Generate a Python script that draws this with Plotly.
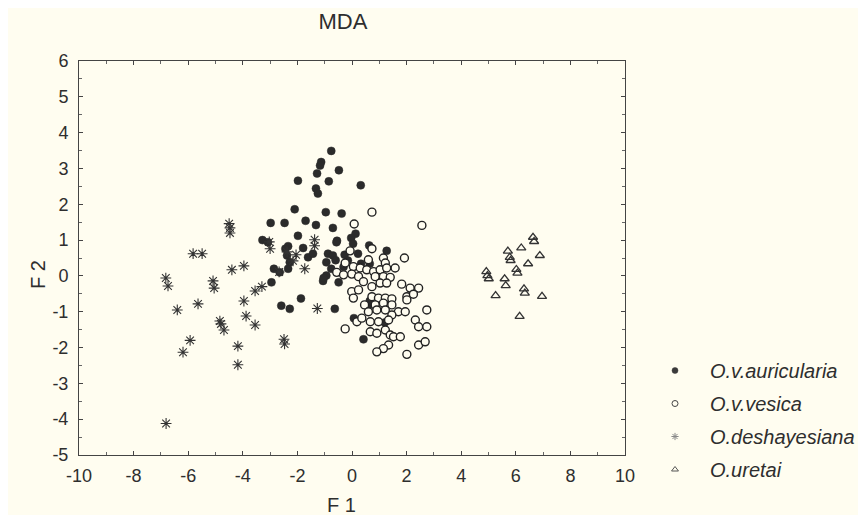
import plotly.graph_objects as go

# ---- data ----
aur_x = [-0.76, -1.13, -1.17, -0.48, -1.28, -1.98, -0.85, 0.32, -1.32, -1.25,
         -2.10, -0.96, -0.38, -2.98, -2.47, -1.70, -1.32, -0.70, 0.13, -0.03,
         -1.98, -0.55, -3.28, -3.08, -2.34, -2.44, -1.79, -2.38, -2.28, -1.61,
         -1.43, -2.86, -2.65, -2.34, -2.95, -0.88, -0.70, -0.94, -0.76, -0.94,
         -0.49, -0.57, 0.04, -0.27, -0.15, 0.22, 0.63, 1.27, -2.59, -2.28,
         -1.87, -0.63, -1.06, 0.07, 0.42, 0.65, 0.70, 0.33, 0.65, 1.20,
         -0.60, -1.04, -0.31]
aur_y = [3.49, 3.18, 3.08, 2.95, 2.86, 2.66, 2.64, 2.53, 2.44, 2.30,
         1.86, 1.78, 1.74, 1.48, 1.48, 1.54, 1.42, 1.34, 1.18, 1.06,
         1.12, 0.98, 1.00, 0.94, 0.83, 0.76, 0.78, 0.57, 0.38, 0.52,
         0.62, 0.20, 0.10, 0.20, -0.18, 0.62, 0.57, 0.38, 0.20, 0.01,
         -0.18, 0.94, 0.90, 0.59, 0.43, 0.62, 0.85, 0.70, -0.83, -0.92,
         -0.63, -0.92, -0.14, -1.18, -1.77, -0.70, -0.80, 0.34, 0.34, -1.30,
         0.44, -0.06, 0.25]

ves_x = [0.73, 0.08, 2.56, -0.07, 0.73, 0.60, 1.15, 1.22, 1.92, -0.25,
         0.05, 0.30, 0.54, 0.79, 1.03, 1.27, 1.58, -0.56, -0.31, -0.01,
         0.24, 0.85, 1.15, 1.40, 0.42, 0.73, 1.03, 1.27, 1.82, 2.13,
         2.44, -0.01, 0.24, 0.05, 0.73, 0.97, 1.22, 1.46, 2.01, 2.25,
         2.01, 0.46, 0.85, 1.15, 1.46, 1.70, 1.95, 0.60, 0.91, 1.22,
         1.46, 0.18, 0.36, 0.67, 0.97, 1.34, -0.25, 0.67, 0.91, 1.22,
         1.40, 2.32, 2.44, 2.74, 2.74, 1.52, 1.77, 1.34, 1.15, 0.91,
         2.44, 2.68, 2.01]
ves_y = [1.78, 1.45, 1.41, 0.70, 0.76, 0.45, 0.50, 0.36, 0.50, 0.36,
         0.26, 0.22, 0.17, 0.12, 0.17, 0.22, 0.22, 0.10, 0.03, 0.05,
         -0.02, -0.02, -0.02, -0.04, -0.16, -0.30, -0.20, -0.20, -0.23, -0.34,
         -0.34, -0.44, -0.39, -0.62, -0.58, -0.62, -0.62, -0.64, -0.58, -0.51,
         -0.67, -0.81, -0.81, -0.76, -0.81, -1.00, -1.00, -1.00, -0.95, -0.95,
         -1.09, -1.28, -1.18, -1.28, -1.28, -1.23, -1.48, -1.56, -1.60, -1.51,
         -1.65, -1.23, -1.42, -1.42, -0.95, -1.70, -1.70, -1.93, -2.03, -2.12,
         -1.93, -1.84, -2.19]

des_x = [-4.50, -4.47, -4.47, -3.03, -3.00, -5.82, -5.49, -4.40, -3.96, -6.82,
         -6.74, -5.09, -5.05, -3.55, -3.30, -6.40, -5.64, -3.96, -3.88, -3.55,
         -4.84, -4.80, -4.69, -5.93, -6.19, -4.18, -4.18, -6.81, -1.37, -1.37,
         -2.38, -2.05, -2.16, -2.67, -1.73, -1.27, -2.49, -2.47]
des_y = [1.46, 1.34, 1.20, 0.95, 0.76, 0.62, 0.62, 0.17, 0.28, -0.06,
         -0.28, -0.14, -0.34, -0.42, -0.30, -0.95, -0.78, -0.70, -1.12, -1.37,
         -1.26, -1.34, -1.51, -1.80, -2.13, -1.96, -2.48, -4.12, 1.01, 0.84,
         0.67, 0.59, 0.42, 0.11, 0.20, -0.91, -1.77, -1.90]

ure_x = [6.63, 6.67, 6.20, 6.88, 5.71, 5.78, 5.81, 6.45, 6.02, 6.06,
         4.92, 4.96, 5.01, 5.59, 5.63, 6.30, 6.33, 5.26, 6.96, 6.14]
ure_y = [1.08, 0.96, 0.78, 0.57, 0.69, 0.52, 0.43, 0.34, 0.18, 0.08,
         0.12, 0.01, -0.08, -0.08, -0.27, -0.36, -0.48, -0.55, -0.57, -1.13]

names = ["O.v.auricularia", "O.v.vesica", "O.deshayesiana", "O.uretai"]
x_ticks = [-10, -8, -6, -4, -2, 0, 2, 4, 6, 8, 10]
y_ticks = [-5, -4, -3, -2, -1, 0, 1, 2, 3, 4, 5, 6]
x_ticktext = [str(v) for v in x_ticks]   # plain hyphen minus, as in the reference
y_ticktext = [str(v) for v in y_ticks]

BG = "#fffdf0"
FONT = "Liberation Sans, Arial, sans-serif"
TXT = "#2e2e2e"

styles = [
    dict(symbol="circle", size=8, color="#2b2b2b", line=dict(color="#2b2b2b", width=0.5)),
    dict(symbol="circle", size=8, color=BG, line=dict(color="#222222", width=1.4)),
    dict(symbol="asterisk-open", size=9, color="#333333", line=dict(color="#333333", width=1.1)),
    dict(symbol="triangle-up-open", size=8, color="#333333", line=dict(color="#333333", width=1.3)),
]
legend_styles = [
    dict(symbol="circle", size=6, color="#3a3a3a", line=dict(color="#3a3a3a", width=0.5)),
    dict(symbol="circle-open", size=6, color="#444444", line=dict(color="#444444", width=1)),
    dict(symbol="asterisk-open", size=6, color="#888888", line=dict(color="#888888", width=1)),
    dict(symbol="triangle-up-open", size=6, color="#555555", line=dict(color="#555555", width=1)),
]

fig = go.Figure()
series = [(aur_x, aur_y), (ves_x, ves_y), (des_x, des_y), (ure_x, ure_y)]
for i, ((xs, ys), nm) in enumerate(zip(series, names)):
    fig.add_trace(go.Scatter(x=xs, y=ys, mode="markers", name=nm,
                             marker=styles[i], showlegend=False))
for i, nm in enumerate(names):
    fig.add_trace(go.Scatter(x=[None], y=[None], mode="markers", name=nm,
                             marker=legend_styles[i], legendgroup=nm,
                             showlegend=True))

axis_common = dict(
    showgrid=False, zeroline=False, showline=True, linecolor="#444444",
    linewidth=1, mirror="ticks", ticks="inside", ticklen=4,
    tickcolor="#444444", tickfont=dict(family=FONT, size=18, color=TXT),
)
fig.update_xaxes(range=[-10, 10], tickvals=x_ticks, ticktext=x_ticktext,
                 ticklabelstandoff=4,
                 minor=dict(dtick=1, ticks="inside", ticklen=3, tickcolor="#666666"),
                 **axis_common)
fig.update_yaxes(range=[-5, 6], tickvals=y_ticks, ticktext=y_ticktext,
                 ticklabelstandoff=6,
                 minor=dict(dtick=0.5, ticks="inside", ticklen=3, tickcolor="#666666"),
                 **axis_common)

PW, PH = 546, 394
fig.update_layout(
    width=866, height=515,
    margin=dict(l=71, r=249, t=53, b=68, autoexpand=False),
    paper_bgcolor=BG, plot_bgcolor=BG,
    font=dict(family=FONT, color=TXT),
    title=dict(text="MDA", x=335 / 866, xref="container", y=0.975, yref="container",
               xanchor="center", yanchor="middle",
               font=dict(family=FONT, size=22, color=TXT)),
    legend=dict(x=(632 - 71) / PW, xanchor="left", y=(447 - 343) / PH, yanchor="top",
                yref="paper", tracegroupgap=4, itemwidth=60,
                font=dict(family=FONT, size=20, color=TXT, style="italic"),
                bgcolor="rgba(0,0,0,0)"),
    showlegend=True,
    annotations=[
        dict(text="F 1", x=(333 - 71) / PW, y=-(497 - 447) / PH, xref="paper", yref="paper",
             showarrow=False, xanchor="center", yanchor="middle",
             font=dict(family=FONT, size=20, color=TXT)),
        dict(text="F 2", x=-(71 - 30) / PW, y=(447 - 267) / PH, xref="paper", yref="paper",
             showarrow=False, xanchor="center", yanchor="middle", textangle=-90,
             font=dict(family=FONT, size=20, color=TXT)),
    ],
)

fig.write_html("out.html")
